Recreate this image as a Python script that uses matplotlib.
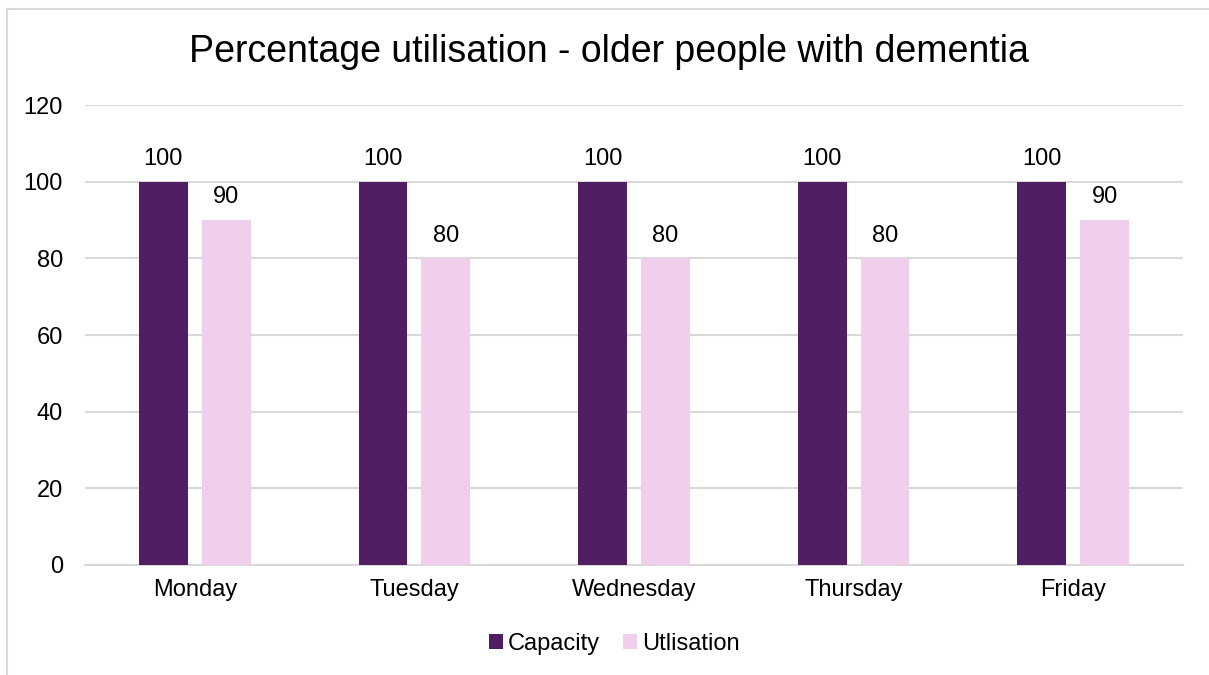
import matplotlib.pyplot as plt
from matplotlib.patches import Rectangle

plt.rcParams['font.family'] = ['Liberation Sans', 'DejaVu Sans']

days = ['Monday', 'Tuesday', 'Wednesday', 'Thursday', 'Friday']
capacity = [100, 100, 100, 100, 100]
utilisation = [90, 80, 80, 80, 90]
yticks = [0, 20, 40, 60, 80, 100, 120]

fig = plt.figure(figsize=(12.09, 6.75), dpi=100)
ax = fig.add_axes([0.0703, 0.163, 0.9082, 0.6814])

# outer chart frame (runs off the right and bottom edges)
fig.patches.append(Rectangle((7 / 1209, -0.05), 1.1, 1 - 9 / 675 + 0.05,
                             transform=fig.transFigure, fill=False,
                             edgecolor='#d9d9d9', linewidth=1.5))

x = range(len(days))
w = 0.223
off = 0.143
b1 = ax.bar([i - off for i in x], capacity, w, color='#511e64', label='Capacity', zorder=3)
b2 = ax.bar([i + off for i in x], utilisation, w, color='#f0cfed', label='Utlisation', zorder=3)

for bars, vals in [(b1, capacity), (b2, utilisation)]:
    for rect, v in zip(bars, vals):
        ax.annotate(str(v), (rect.get_x() + rect.get_width() / 2, v),
                    xytext=(0, 8.5), textcoords='offset points',
                    ha='center', va='bottom', fontsize=17, color='#000000')

ax.set_xlim(-0.5, len(days) - 0.5)
ax.set_ylim(0, 120)
ax.set_yticks(yticks)
ax.set_xticks(list(x))
ax.set_xticklabels(days)
ax.tick_params(axis='both', length=0, labelsize=17, colors='#000000')
ax.tick_params(axis='y', pad=16)
ax.tick_params(axis='x', pad=10)
ax.grid(axis='y', color='#d9d9d9', linewidth=1.5, zorder=0)
for s in ['top', 'right', 'left']:
    ax.spines[s].set_visible(False)
ax.spines['bottom'].set_color('#d9d9d9')
ax.spines['bottom'].set_linewidth(1.5)

fig.text(0.5035, 1 - 52 / 675, 'Percentage utilisation - older people with dementia',
         ha='center', va='center', fontsize=27)

fig.legend(handles=[b1, b2], loc='center', bbox_to_anchor=(0.508, 1 - 644 / 675),
           ncol=2, frameon=False, fontsize=17, handlelength=0.6, handleheight=0.6,
           handletextpad=0.2, columnspacing=1.0)

fig.savefig('out.png', dpi=100)
